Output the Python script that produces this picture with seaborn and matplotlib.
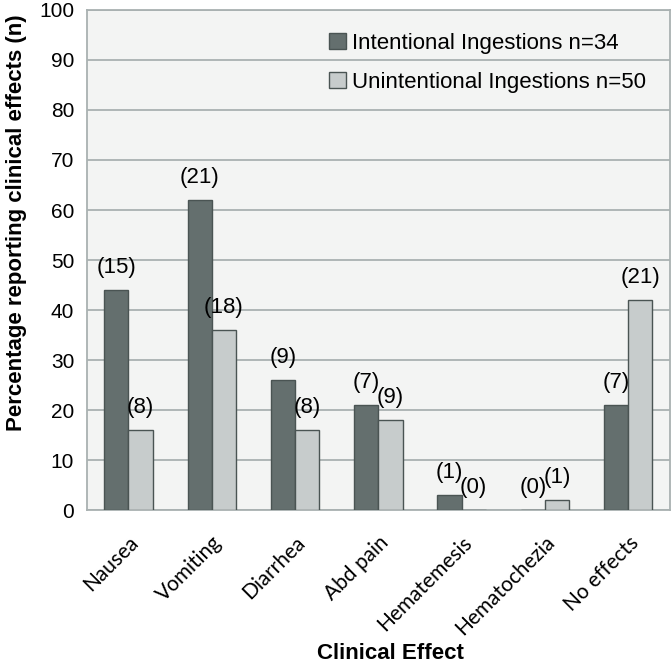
import numpy as np
import pandas as pd
import matplotlib
matplotlib.use("Agg")
import matplotlib.pyplot as plt
import seaborn as sns

effects = ["Nausea", "Vomiting", "Diarrhea", "Abd pain", "Hematemesis", "Hematochezia", "No effects"]
groups = ["Intentional Ingestions n=34", "Unintentional Ingestions n=50"]
pct_intentional = [44, 62, 26, 21, 3, 0, 21]
pct_unintentional = [16, 36, 16, 18, 0, 2, 42]
n_intentional = [15, 21, 9, 7, 1, 0, 7]
n_unintentional = [8, 18, 8, 9, 0, 1, 21]

df = pd.DataFrame({
    "effect": effects * 2,
    "group": [groups[0]] * len(effects) + [groups[1]] * len(effects),
    "pct": pct_intentional + pct_unintentional,
    "n": n_intentional + n_unintentional,
})

sns.set_theme(style="white")
plt.rcParams["font.family"] = ["Liberation Sans", "DejaVu Sans"]

fig = plt.figure(figsize=(6.72, 6.65), dpi=100)
ax = fig.add_axes([0.129, 0.233, 0.868, 0.752])
ax.set_facecolor("#f3f4f3")

sns.barplot(data=df, x="effect", y="pct", hue="group", order=effects, hue_order=groups,
            palette=["#627170", "#c6cdcd"], width=0.58, edgecolor="#4a5453", linewidth=1.0,
            ax=ax, zorder=3)

for cont, ns in zip(ax.containers, [n_intentional, n_unintentional]):
    for bar, n in zip(cont, ns):
        ax.annotate(f"({n})", (bar.get_x() + bar.get_width() / 2, bar.get_height()),
                    xytext=(0, 16.5), textcoords="offset points", ha="center", va="center",
                    fontsize=16, color="black")

gray = "#a9b1b1"
ax.set_ylim(0, 100)
ax.set_xlim(-0.5, len(effects) - 0.5)
ax.set_yticks(np.arange(0, 101, 10))
ax.yaxis.grid(True, color=gray, lw=1.3, zorder=0)
ax.tick_params(axis="y", labelsize=15, length=5, width=1.3, color=gray, pad=4, labelcolor="black")
ax.set_xticks(range(len(effects)))
ax.set_xticklabels(effects, rotation=45, ha="right", rotation_mode="anchor",
                   fontsize=15, family=["Lato", "DejaVu Sans"], color="black")
ax.tick_params(axis="x", length=0, pad=16)
ax.set_xticks(np.arange(-0.5, len(effects) + 0.5, 1), minor=True)
ax.tick_params(axis="x", which="minor", length=5, color=gray, width=1.3)
for s in ax.spines.values():
    s.set_color(gray)
    s.set_linewidth(1.3)

ax.set_xlabel("Clinical Effect", fontsize=16, fontweight="bold", color="black")
ax.xaxis.set_label_coords(0.521, -0.266)
ax.set_ylabel("Percentage reporting clinical effects (n)", fontsize=16, fontweight="bold",
              color="black")
ax.yaxis.set_label_coords(-0.103, 0.574)

leg = ax.legend(loc="upper right", bbox_to_anchor=(0.985, 0.985), frameon=False, fontsize=16,
                handlelength=0.75, handleheight=0.75, handletextpad=0.25, labelspacing=0.8,
                borderaxespad=0.3)
for h in leg.legend_handles:
    h.set_edgecolor("#4a5453")
for t in leg.get_texts():
    t.set_color("black")

fig.savefig("out.png", dpi=100)
